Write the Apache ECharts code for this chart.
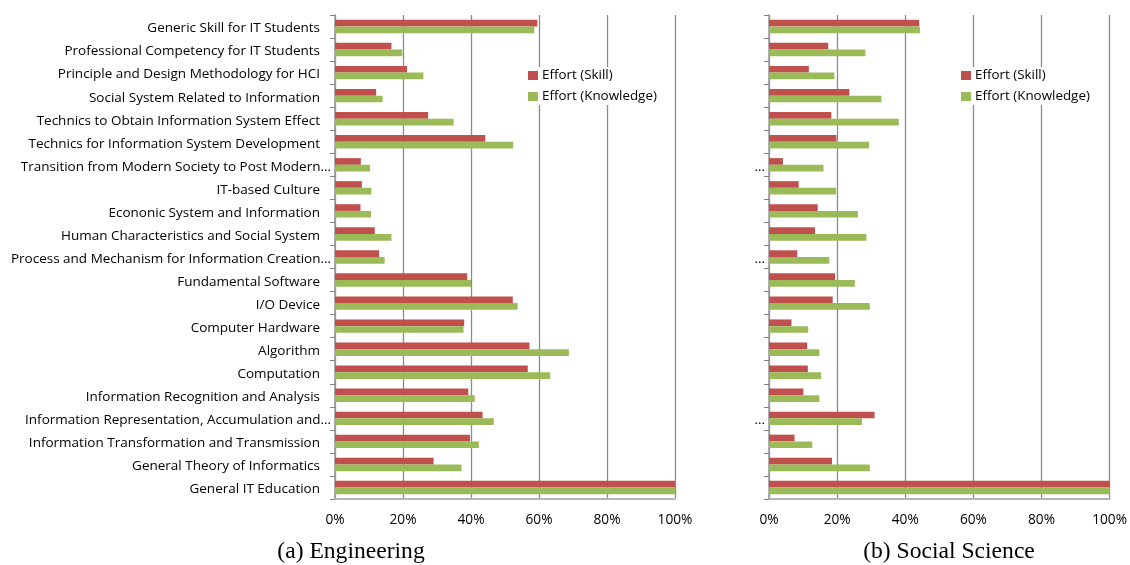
<!DOCTYPE html>
<html>
<head>
<meta charset="utf-8">
<script src="https://cdn.jsdelivr.net/npm/echarts@6/dist/echarts.min.js"></script>
<style>
  html, body { margin: 0; padding: 0; background: #fff; }
  #chart { width: 1130px; height: 565px; }
</style>
</head>
<body>
<div id="chart"></div>
<script>
// Curriculum topics, listed top to bottom
const categories = [
  'Generic Skill for IT Students',
  'Professional Competency for IT Students',
  'Principle and Design Methodology for HCI',
  'Social System Related to Information',
  'Technics to Obtain Information System Effect',
  'Technics for Information System Development',
  'Transition from Modern Society to Post Modern…',
  'IT-based Culture',
  'Econonic System and Information',
  'Human Characteristics and Social System',
  'Process and Mechanism for Information Creation…',
  'Fundamental Software',
  'I/O Device',
  'Computer Hardware',
  'Algorithm',
  'Computation',
  'Information Recognition and Analysis',
  'Information Representation, Accumulation and…',
  'Information Transformation and Transmission',
  'General Theory of Informatics',
  'General IT Education'
];

const seriesNames = ['Effort (Skill)', 'Effort (Knowledge)'];

// (a) Engineering, percent
const engSkill = [59.5, 16.6, 21.2, 12.1, 27.4, 44.2, 7.6, 7.9, 7.5, 11.7, 13.0,
                  38.9, 52.3, 38.0, 57.2, 56.7, 39.2, 43.4, 39.7, 29.0, 100];
const engKnowledge = [58.6, 19.8, 26.0, 14.0, 34.9, 52.4, 10.3, 10.7, 10.6, 16.6, 14.6,
                      40.0, 53.7, 37.8, 68.8, 63.3, 41.1, 46.7, 42.3, 37.2, 100];

// (b) Social Science, percent
const socSkill = [44.1, 17.4, 11.7, 23.6, 18.3, 19.8, 4.1, 8.7, 14.3, 13.5, 8.3,
                  19.4, 18.7, 6.6, 11.2, 11.4, 10.1, 31.0, 7.5, 18.5, 100];
const socKnowledge = [44.3, 28.3, 19.2, 33.0, 38.1, 29.4, 16.0, 19.7, 26.1, 28.6, 17.7,
                      25.2, 29.6, 11.5, 14.8, 15.3, 14.8, 27.3, 12.7, 29.6, 100];

const xTicks = [0, 20, 40, 60, 80, 100];
const captions = ['(a) Engineering', '(b) Social Science'];

const RED = '#C0504D';
const GREEN = '#9BBB59';
const LABEL_FONT = '"Open Sans", "Noto Sans", sans-serif';
const CAT_SIZE = 13.5;

const chart = echarts.init(document.getElementById('chart'));

function valueAxis(gridIndex) {
  return {
    type: 'value', gridIndex: gridIndex,
    min: xTicks[0], max: xTicks[xTicks.length - 1], interval: xTicks[1] - xTicks[0],
    axisLine: { show: true, lineStyle: { color: '#b4b4b4', width: 2 } },
    axisTick: { show: false },
    splitLine: { show: true, lineStyle: { color: '#8c8c8c', width: 1.3 } },
    axisLabel: {
      formatter: v => v + '%', color: '#000', fontSize: 13.7,
      fontFamily: LABEL_FONT, margin: 14
    }
  };
}

function categoryAxis(gridIndex, full) {
  return {
    type: 'category', gridIndex: gridIndex, data: categories, inverse: true,
    axisLine: { show: true, lineStyle: { color: '#9a9a9a', width: 1.5 } },
    axisTick: { show: true, length: 5, lineStyle: { color: '#808080' } },
    axisLabel: {
      interval: 0, margin: 4, color: '#000', fontSize: CAT_SIZE, fontFamily: LABEL_FONT,
      formatter: function (name) {
        const cut = name.endsWith('…');
        if (!full) return cut ? '{c|…}' : '';
        return cut ? '{c|' + name + '}' : '{n|' + name + '}';
      },
      rich: {
        n: { padding: [4, 11, 0, 0], fontSize: CAT_SIZE, fontFamily: LABEL_FONT, color: '#000' },
        c: { padding: [4, 0, 0, 0], fontSize: CAT_SIZE, fontFamily: LABEL_FONT, color: '#000' }
      }
    }
  };
}

function barSeries(name, data, color, gridIndex) {
  return {
    type: 'bar', name: name, data: data,
    xAxisIndex: gridIndex, yAxisIndex: gridIndex,
    barWidth: 6.7, barGap: '0%',
    itemStyle: { color: color },
    emphasis: { disabled: true },
    animation: false
  };
}

function legend(left) {
  return {
    data: seriesNames, orient: 'vertical', left: left, top: 67,
    icon: 'rect', itemWidth: 10, itemHeight: 9, itemGap: 8,
    textStyle: { fontSize: 13.4, fontFamily: LABEL_FONT, color: '#000', padding: [0, 0, 0, -1] },
    backgroundColor: '#fff', padding: [2, 4, 2, 4]
  };
}

chart.setOption({
  animation: false,
  grid: [
    { left: 335, right: 455, top: 15, bottom: 66, containLabel: false },
    { left: 769, right: 20, top: 15, bottom: 66, containLabel: false }
  ],
  xAxis: [valueAxis(0), valueAxis(1)],
  yAxis: [categoryAxis(0, true), categoryAxis(1, false)],
  legend: [legend(524), legend(957)],
  series: [
    barSeries(seriesNames[0], engSkill, RED, 0),
    barSeries(seriesNames[1], engKnowledge, GREEN, 0),
    barSeries(seriesNames[0], socSkill, RED, 1),
    barSeries(seriesNames[1], socKnowledge, GREEN, 1)
  ],
  graphic: [
    { type: 'text', x: 351, y: 552, style: { text: captions[0], font: '23.6px "Liberation Serif", serif', fill: '#000', textAlign: 'center', textVerticalAlign: 'middle' } },
    { type: 'text', x: 949, y: 552, style: { text: captions[1], font: '23.6px "Liberation Serif", serif', fill: '#000', textAlign: 'center', textVerticalAlign: 'middle' } }
  ]
});
</script>
</body>
</html>
